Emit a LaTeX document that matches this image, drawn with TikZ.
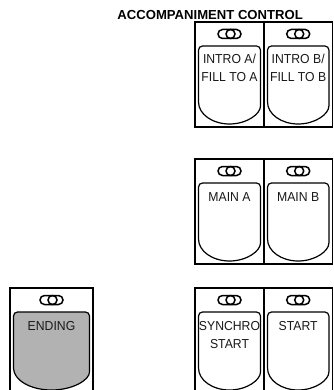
\documentclass[tikz,border=0pt]{standalone}
\usepackage{fontspec}
\setmainfont{Liberation Sans}
\newfontfamily\keyfont[FakeStretch=0.94]{Liberation Sans}
\usepackage{tikz}
\usetikzlibrary{positioning,calc}
\definecolor{keygray}{gray}{0.70}
\definecolor{inkgray}{gray}{0.10}
\tikzset{
  panelbox/.style={draw=black,line width=1.2pt},
  keyshield/.style={draw=black,line width=1.2pt,rounded corners=4pt},
  lamp/.style={draw=black,line width=1.5pt},
  keylbl/.style={font=\keyfont\fontsize{13}{15}\selectfont,text=inkgray,
    inner sep=0pt,anchor=base},
  titlelbl/.style={font=\bfseries\fontsize{13.1}{15}\selectfont,inner sep=0pt,
    anchor=base east},
}
% one panel key: x, y (top left), width, fill, name, first line, second line
\newcommand\keybutton[7]{%
  \begin{scope}[shift={(#1,#2)}]
    \draw[panelbox] (0,0) rectangle (#3,105);
    \draw[lamp,rounded corners=4.5pt] ({#3/2-11.5},7.5) rectangle ({#3/2+11.5},16.5);
    \draw[lamp] ({#3/2+1},12) circle[radius=4.5];
    \draw[keyshield,fill=#4] (3.5,80) -- (3.5,24) -- ({#3-3.5},24) -- ({#3-3.5},80)
      [sharp corners] arc[start angle=0,end angle=180,x radius={#3/2-3.5},y radius=22]
      -- cycle;
    \node[keylbl] (#5) at ({#3/2},42) {#6};
    \node[keylbl] (#5-2) at ({#3/2},60) {#7};
  \end{scope}}

\begin{document}
\begin{tikzpicture}[x=1pt,y=-1pt]
  \useasboundingbox (0,0) rectangle (333,390);
  \node[titlelbl] (title) at (303,19.5) {ACCOMPANIMENT CONTROL};

  \keybutton{195}{22}{69}{white}{introa}{INTRO A/}{FILL TO A}
  \keybutton{264}{22}{68.4}{white}{introb}{INTRO B/}{FILL TO B}

  \keybutton{195}{159}{69}{white}{maina}{MAIN A}{}
  \keybutton{264}{159}{68.4}{white}{mainb}{MAIN B}{}

  \keybutton{10}{288}{83}{keygray}{ending}{ENDING}{}
  \keybutton{195}{288}{69}{white}{synchro}{SYNCHRO}{START}
  \keybutton{264}{288}{68.4}{white}{start}{START}{}
\end{tikzpicture}
\end{document}
